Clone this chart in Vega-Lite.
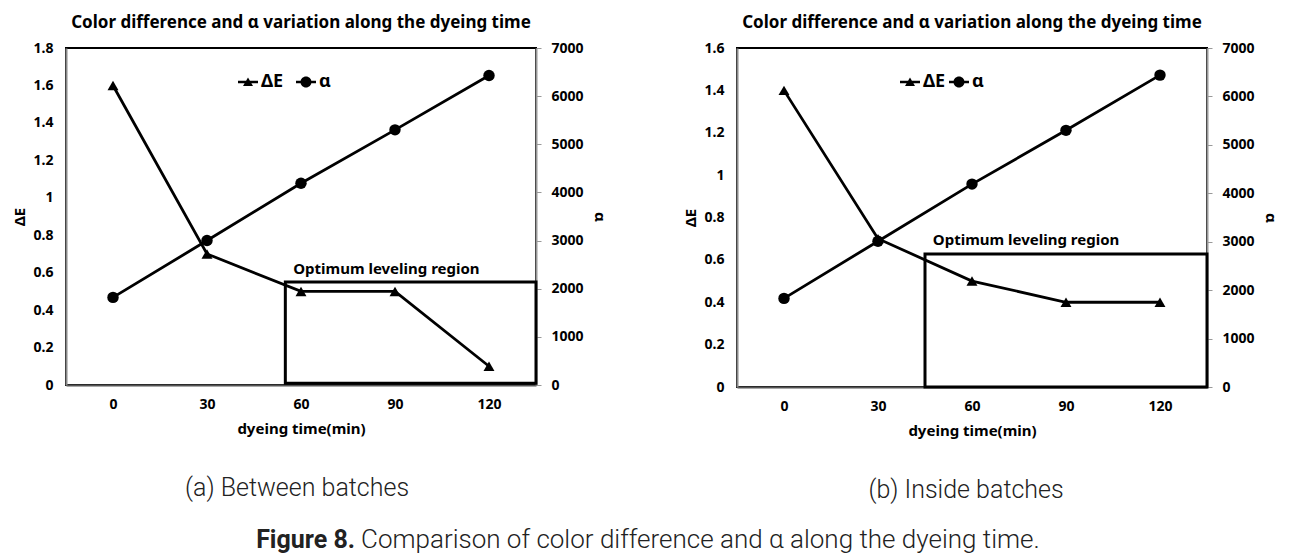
{
  "$schema": "https://vega.github.io/schema/vega-lite/v6.json",
  "background": "white",
  "padding": {"left": 11, "top": 13, "right": 5, "bottom": 5},
  "config": {
    "font": "Noto Sans",
    "view": {"stroke": "black", "strokeWidth": 2},
    "axis": {"labelColor": "black", "titleColor": "black", "grid": false, "labelFlush": false, "labelOverlap": false, "labelFontWeight": "bold", "titleFontWeight": "bold", "labelFontSize": 14, "titleFontSize": 15},
    "title": {"color": "black"}
  },
  "datasets": {
    "a": [
      {"time": 0, "dE": 1.6, "alpha": 1820},
      {"time": 30, "dE": 0.7, "alpha": 3000},
      {"time": 60, "dE": 0.5, "alpha": 4190},
      {"time": 90, "dE": 0.5, "alpha": 5300},
      {"time": 120, "dE": 0.1, "alpha": 6430}
    ],
    "b": [
      {"time": 0, "dE": 1.4, "alpha": 1830},
      {"time": 30, "dE": 0.7, "alpha": 3010},
      {"time": 60, "dE": 0.5, "alpha": 4190},
      {"time": 90, "dE": 0.4, "alpha": 5300},
      {"time": 120, "dE": 0.4, "alpha": 6440}
    ],
    "boxA": [{"x1": 55, "x2": 135, "y1": 0.01, "y2": 0.55, "tx": 57.5, "ty": 0.62, "label": "Optimum leveling region"}],
    "boxB": [{"x1": 45, "x2": 135, "y1": 0, "y2": 0.628, "tx": 47.5, "ty": 0.695, "label": "Optimum leveling region"}],
    "caption": [
      {"part": "Figure 8.", "k": 0},
      {"part": "Comparison of color difference and α along the dyeing time.", "k": 1}
    ]
  },
  "vconcat": [
    {
      "hconcat": [
        {
          "title": {"text": "(a) Between batches", "orient": "bottom", "anchor": "middle", "dx": -12, "font": "Roboto", "fontWeight": 300, "fontSize": 25, "offset": 39, "color": "#222"},
          "vconcat": [
            {
              "width": 470,
              "height": 337,
              "title": {"text": "Color difference and α variation along the dyeing time", "frame": "group", "anchor": "middle", "fontSize": 17, "fontWeight": "bold", "offset": 9},
              "data": {"name": "a"},
              "layer": [
                {
                  "layer": [
                    {
                      "data": {"name": "boxA"},
                      "mark": {"type": "rect", "fillOpacity": 0, "stroke": "black", "strokeWidth": 3},
                      "encoding": {
                        "x": {"field": "x1", "type": "quantitative", "scale": {"domain": [-15, 135], "nice": false, "zero": false}, "title": "dyeing time(min)"},
                        "x2": {"field": "x2"},
                        "y": {"field": "y1", "type": "quantitative", "scale": {"domain": [0, 1.8], "nice": false}, "title": "ΔE"},
                        "y2": {"field": "y2"}
                      }
                    },
                    {
                      "data": {"name": "boxA"},
                      "mark": {"type": "text", "align": "left", "baseline": "middle", "fontSize": 15, "fontWeight": "bold", "color": "black"},
                      "encoding": {
                        "x": {"field": "tx", "type": "quantitative", "title": "dyeing time(min)"},
                        "y": {"field": "ty", "type": "quantitative", "title": "ΔE"},
                        "text": {"field": "label"}
                      }
                    },
                    {
                      "mark": {"type": "line", "color": "black", "strokeWidth": 2.8},
                      "encoding": {
                        "x": {"field": "time", "type": "quantitative", "title": "dyeing time(min)",
                          "axis": {"values": [0, 30, 60, 90, 120], "tickCount": 20, "ticks": false, "domainColor": "#555", "domainWidth": 2, "labelPadding": 12, "titlePadding": 10}},
                        "y": {"field": "dE", "type": "quantitative", "title": "ΔE",
                          "axis": {"values": [0, 0.2, 0.4, 0.6, 0.8, 1, 1.2, 1.4, 1.6, 1.8], "tickCount": 20, "format": ".1~f", "ticks": false, "domainColor": "#8a8a8a", "domainWidth": 2, "labelPadding": 13, "titlePadding": 6}}
                      }
                    },
                    {
                      "mark": {"type": "point", "shape": "triangle-up", "filled": true, "color": "black", "opacity": 1, "size": 120},
                      "encoding": {
                        "x": {"field": "time", "type": "quantitative", "title": "dyeing time(min)"},
                        "y": {"field": "dE", "type": "quantitative", "title": "ΔE"}
                      }
                    },
                    {
                      "transform": [{"filter": "false"}],
                      "mark": {"type": "point", "filled": true, "color": "black", "opacity": 1},
                      "encoding": {
                        "shape": {"field": "series", "type": "nominal",
                          "scale": {"domain": ["ΔE", "α"], "range": ["M-1,-0.12H1V0.12H-1ZM0,-0.45L0.5,0.4H-0.5Z", "M-1,-0.12H1V0.12H-1ZM0.55,0A0.55,0.55,0,1,1,-0.55,0A0.55,0.55,0,1,1,0.55,0Z"]},
                          "legend": {"orient": "none", "legendX": 171, "legendY": 23, "direction": "horizontal", "title": null, "labelFontSize": 18, "labelFontWeight": "bold", "labelColor": "black", "symbolSize": 400, "symbolFillColor": "black", "symbolOpacity": 1, "labelOffset": 2, "columnPadding": 9}}
                      }
                    }
                  ]
                },
                {
                  "layer": [
                    {
                      "mark": {"type": "line", "color": "black", "strokeWidth": 2.8},
                      "encoding": {
                        "x": {"field": "time", "type": "quantitative", "title": "dyeing time(min)"},
                        "y": {"field": "alpha", "type": "quantitative", "title": "α", "scale": {"domain": [0, 7000], "nice": false},
                          "axis": {"orient": "right", "values": [0, 1000, 2000, 3000, 4000, 5000, 6000, 7000], "tickCount": 20, "format": "d", "tickSize": 5, "tickColor": "#999", "domainColor": "#999", "domainWidth": 2, "labelPadding": 10, "titlePadding": 8}}
                      }
                    },
                    {
                      "mark": {"type": "point", "shape": "circle", "filled": true, "color": "black", "opacity": 1, "size": 130},
                      "encoding": {
                        "x": {"field": "time", "type": "quantitative", "title": "dyeing time(min)"},
                        "y": {"field": "alpha", "type": "quantitative", "title": "α"}
                      }
                    }
                  ]
                }
              ],
              "resolve": {"scale": {"y": "independent"}}
            }
          ]
        },
        {
          "title": {"text": "(b) Inside batches", "orient": "bottom", "anchor": "middle", "dx": -14, "font": "Roboto", "fontWeight": 300, "fontSize": 25, "offset": 39, "color": "#222"},
          "vconcat": [
            {
              "width": 470,
              "height": 339,
              "title": {"text": "Color difference and α variation along the dyeing time", "frame": "group", "anchor": "middle", "fontSize": 17, "fontWeight": "bold", "offset": 9},
              "data": {"name": "b"},
              "layer": [
                {
                  "layer": [
                    {
                      "data": {"name": "boxB"},
                      "mark": {"type": "rect", "fillOpacity": 0, "stroke": "black", "strokeWidth": 3},
                      "encoding": {
                        "x": {"field": "x1", "type": "quantitative", "scale": {"domain": [-15, 135], "nice": false, "zero": false}, "title": "dyeing time(min)"},
                        "x2": {"field": "x2"},
                        "y": {"field": "y1", "type": "quantitative", "scale": {"domain": [0, 1.6], "nice": false}, "title": "ΔE"},
                        "y2": {"field": "y2"}
                      }
                    },
                    {
                      "data": {"name": "boxB"},
                      "mark": {"type": "text", "align": "left", "baseline": "middle", "fontSize": 15, "fontWeight": "bold", "color": "black"},
                      "encoding": {
                        "x": {"field": "tx", "type": "quantitative", "title": "dyeing time(min)"},
                        "y": {"field": "ty", "type": "quantitative", "title": "ΔE"},
                        "text": {"field": "label"}
                      }
                    },
                    {
                      "mark": {"type": "line", "color": "black", "strokeWidth": 2.8},
                      "encoding": {
                        "x": {"field": "time", "type": "quantitative", "title": "dyeing time(min)",
                          "axis": {"values": [0, 30, 60, 90, 120], "tickCount": 20, "ticks": false, "domainColor": "#555", "domainWidth": 2, "labelPadding": 12, "titlePadding": 10}},
                        "y": {"field": "dE", "type": "quantitative", "title": "ΔE",
                          "axis": {"values": [0, 0.2, 0.4, 0.6, 0.8, 1, 1.2, 1.4, 1.6], "tickCount": 20, "format": ".1~f", "ticks": false, "domainColor": "#8a8a8a", "domainWidth": 2, "labelPadding": 13, "titlePadding": 6}}
                      }
                    },
                    {
                      "mark": {"type": "point", "shape": "triangle-up", "filled": true, "color": "black", "opacity": 1, "size": 120},
                      "encoding": {
                        "x": {"field": "time", "type": "quantitative", "title": "dyeing time(min)"},
                        "y": {"field": "dE", "type": "quantitative", "title": "ΔE"}
                      }
                    },
                    {
                      "transform": [{"filter": "false"}],
                      "mark": {"type": "point", "filled": true, "color": "black", "opacity": 1},
                      "encoding": {
                        "shape": {"field": "series", "type": "nominal",
                          "scale": {"domain": ["ΔE", "α"], "range": ["M-1,-0.12H1V0.12H-1ZM0,-0.45L0.5,0.4H-0.5Z", "M-1,-0.12H1V0.12H-1ZM0.55,0A0.55,0.55,0,1,1,-0.55,0A0.55,0.55,0,1,1,0.55,0Z"]},
                          "legend": {"orient": "none", "legendX": 162, "legendY": 23, "direction": "horizontal", "title": null, "labelFontSize": 18, "labelFontWeight": "bold", "labelColor": "black", "symbolSize": 400, "symbolFillColor": "black", "symbolOpacity": 1, "labelOffset": 2, "columnPadding": 0}}
                      }
                    }
                  ]
                },
                {
                  "layer": [
                    {
                      "mark": {"type": "line", "color": "black", "strokeWidth": 2.8},
                      "encoding": {
                        "x": {"field": "time", "type": "quantitative", "title": "dyeing time(min)"},
                        "y": {"field": "alpha", "type": "quantitative", "title": "α", "scale": {"domain": [0, 7000], "nice": false},
                          "axis": {"orient": "right", "values": [0, 1000, 2000, 3000, 4000, 5000, 6000, 7000], "tickCount": 20, "format": "d", "tickSize": 5, "tickColor": "#999", "domainColor": "#999", "domainWidth": 2, "labelPadding": 10, "titlePadding": 8}}
                      }
                    },
                    {
                      "mark": {"type": "point", "shape": "circle", "filled": true, "color": "black", "opacity": 1, "size": 130},
                      "encoding": {
                        "x": {"field": "time", "type": "quantitative", "title": "dyeing time(min)"},
                        "y": {"field": "alpha", "type": "quantitative", "title": "α"}
                      }
                    }
                  ]
                }
              ],
              "resolve": {"scale": {"y": "independent"}}
            }
          ]
        }
      ],
      "resolve": {"scale": {"shape": "independent"}, "legend": {"shape": "independent"}},
      "spacing": 74
    },
    {
      "width": 578,
      "height": 40,
      "view": {"stroke": null},
      "data": {"name": "caption"},
      "layer": [
        {
          "transform": [{"filter": "datum.k == 0"}],
          "mark": {"type": "text", "align": "right", "baseline": "middle", "font": "Roboto", "fontSize": 25, "fontWeight": "bold", "color": "#222"},
          "encoding": {"text": {"field": "part"}}
        },
        {
          "transform": [{"filter": "datum.k == 1"}],
          "mark": {"type": "text", "align": "left", "baseline": "middle", "dx": 6, "font": "Roboto", "fontSize": 26, "fontWeight": 300, "color": "#222"},
          "encoding": {"text": {"field": "part"}}
        }
      ]
    }
  ],
  "spacing": 17
}
